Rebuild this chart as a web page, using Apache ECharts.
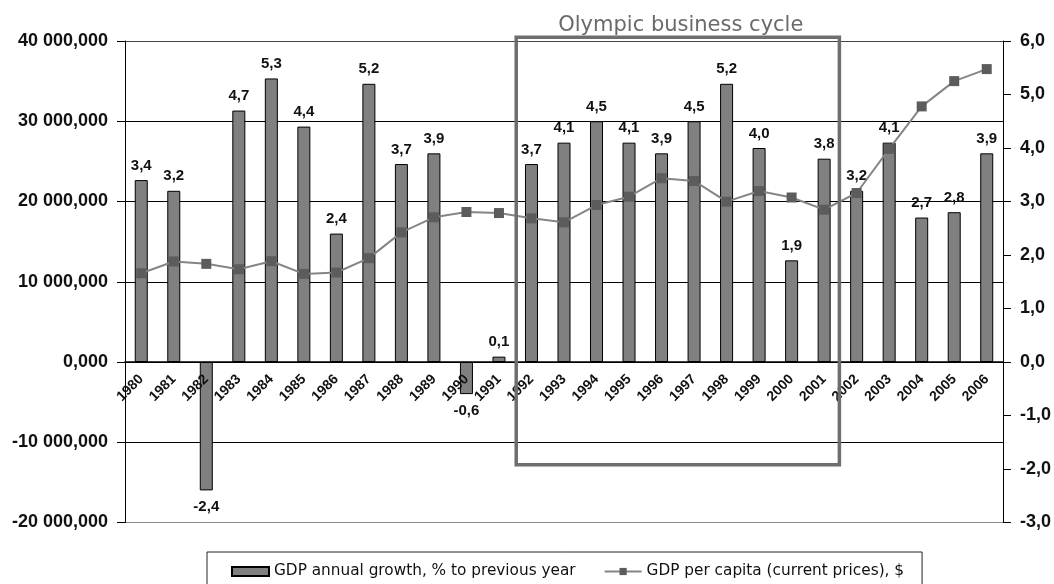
<!DOCTYPE html>
<html><head><meta charset="utf-8">
<script src="https://cdn.jsdelivr.net/npm/echarts@6/dist/echarts.min.js"></script>
<style>html,body{margin:0;padding:0;background:#fff}#c{width:1054px;height:584px}</style>
</head><body><div id="c"></div>
<script>
const years = ['1980','1981','1982','1983','1984','1985','1986','1987','1988','1989','1990','1991','1992','1993','1994','1995','1996','1997','1998','1999','2000','2001','2002','2003','2004','2005','2006'];
const growth = [3.4,3.2,-2.4,4.7,5.3,4.4,2.4,5.2,3.7,3.9,-0.6,0.1,3.7,4.1,4.5,4.1,3.9,4.5,5.2,4.0,1.9,3.8,3.2,4.1,2.7,2.8,3.9];
const gdpPerCapita = [11060000,12530000,12230000,11560000,12560000,10980000,11150000,12940000,16150000,18030000,18690000,18560000,17900000,17400000,19560000,20600000,22900000,22560000,19980000,21300000,20500000,18980000,21060000,26560000,31850000,35000000,36500000];
const leftMin = -20000000, leftMax = 40000000, leftStep = 10000000;
const rightMin = -3, rightMax = 6, rightStep = 1;
const cycleFrom = '1992', cycleTo = '2001';
const cycleTop = 6.07, cycleBottom = -1.92;
const cycleTitle = 'Olympic business cycle';
const barName = 'GDP annual growth, % to previous year';
const lineName = 'GDP per capita (current prices), $';

const comma1 = v => v.toFixed(1).replace('.', ',');
const leftFmt = v => {
  const s = v < 0 ? '-' : '';
  const k = Math.round(Math.abs(v) / 1000);
  return s + String(k).replace(/\B(?=(\d{3})+(?!\d))/g, ' ') + ',000';
};

const gridBottom = 61.5, chartH = 584;
const chart = echarts.init(document.getElementById('c'), null, {renderer: 'canvas'});
const axisFont = {fontFamily: 'Liberation Sans', fontWeight: 'bold', fontSize: 18, color: '#111'};
chart.setOption({
  animation: false,
  backgroundColor: '#fff',
  grid: {left: 125, right: 51, top: 41, bottom: gridBottom},
  legend: {
    left: 207, top: 552,
    padding: [12, 18, 14, 24],
    borderColor: '#222', borderWidth: 1,
    itemGap: 28, itemWidth: 37, itemHeight: 9,
    textStyle: {fontFamily: 'DejaVu Sans', fontSize: 15.3, color: '#111'},
    data: [{name: barName, icon: 'rect'}, {name: lineName}]
  },
  xAxis: {
    type: 'category', data: years, position: 'bottom', z: 10,
    axisLine: {onZero: false, lineStyle: {color: '#000', width: 1.5}},
    axisTick: {length: 5, lineStyle: {color: '#000', width: 2}},
    axisLabel: {rotate: 45, margin: 15, interval: 0, fontFamily: 'Liberation Sans', fontWeight: 'bold', fontSize: 14, color: '#111'}
  },
  yAxis: [{
    type: 'value', min: leftMin, max: leftMax, interval: leftStep,
    axisLine: {show: true, lineStyle: {color: '#000'}},
    axisTick: {show: true, length: 8, lineStyle: {color: '#000'}},
    axisLabel: Object.assign({margin: 17, formatter: leftFmt}, axisFont),
    splitLine: {show: true, lineStyle: {color: ['#8a8a8a','#000','#000','#000','#000','#000','#444'], width: 1}}
  }, {
    type: 'value', min: rightMin, max: rightMax, interval: rightStep,
    axisLine: {show: true, lineStyle: {color: '#000'}},
    axisTick: {show: true, length: 8, lineStyle: {color: '#000'}},
    axisLabel: Object.assign({margin: 17, formatter: v => comma1(v)}, axisFont),
    splitLine: {show: false}
  }],
  series: [{
    name: barName, type: 'bar', yAxisIndex: 1, barWidth: 13,
    itemStyle: {color: '#808080', borderColor: '#000', borderWidth: 1},
    label: {show: true, position: 'top', distance: 7, formatter: p => comma1(p.value),
      fontFamily: 'Liberation Sans', fontWeight: 'bold', fontSize: 15, color: '#111'},
    data: growth.map(v => v < 0 ? {value: v, label: {position: 'bottom', distance: 9}} : v)
  }, {
    name: lineName, type: 'line', yAxisIndex: 0,
    symbol: 'rect', symbolSize: 10,
    lineStyle: {color: '#858585', width: 2},
    itemStyle: {color: '#5c5c5c'},
    z: 5,
    data: gdpPerCapita
  }]
});

function layoutExtras() {
  const zeroY = chart.convertToPixel({yAxisIndex: 0}, 0);
  const bottomY = chartH - gridBottom;
  chart.setOption({xAxis: {offset: zeroY - bottomY}});
  const a = chart.convertToPixel({xAxisIndex: 0}, cycleFrom);
  const a2 = chart.convertToPixel({xAxisIndex: 0}, years[years.indexOf(cycleFrom) + 1]);
  const band = a2 - a;
  const b = chart.convertToPixel({xAxisIndex: 0}, cycleTo);
  const l = a - band / 2 + 1, r = b + band / 2 - 1;
  const t = chart.convertToPixel({yAxisIndex: 1}, cycleTop);
  const btm = chart.convertToPixel({yAxisIndex: 1}, cycleBottom);
  chart.setOption({graphic: [{
    type: 'rect', z: 100,
    shape: {x: l, y: t, width: r - l, height: btm - t},
    style: {fill: 'none', stroke: '#6e6e6e', lineWidth: 3.5}
  }, {
    type: 'text', z: 100,
    x: (l + r) / 2 + 3, y: t - 1,
    style: {text: cycleTitle, fill: '#6a6a6a', font: '21px "DejaVu Sans"', textAlign: 'center', textVerticalAlign: 'bottom'}
  }]});
}
layoutExtras();
</script>
</body></html>
